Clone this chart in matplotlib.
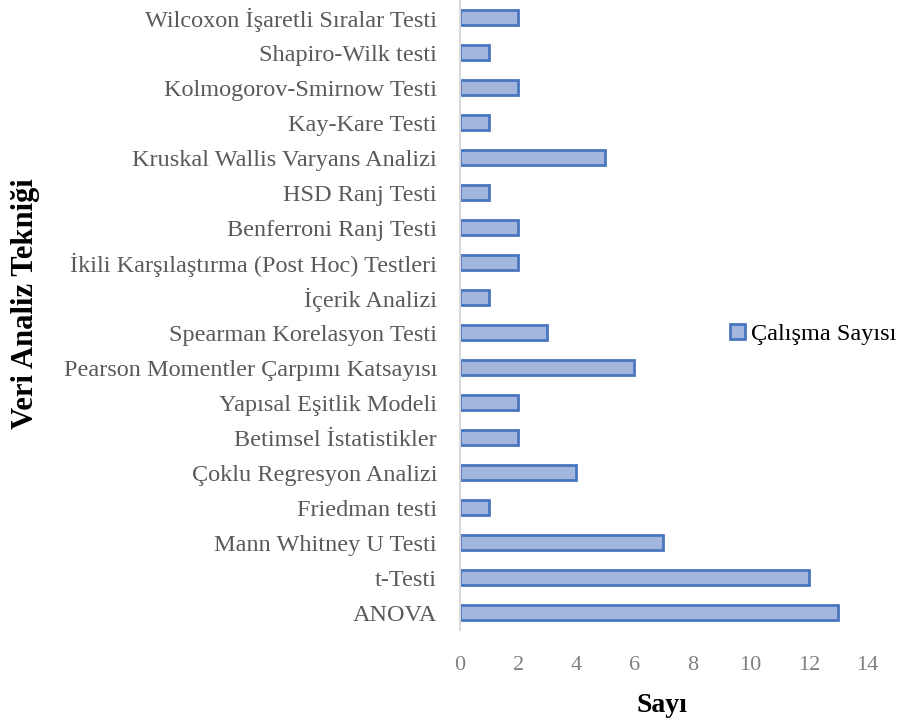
import numpy as np
import matplotlib.pyplot as plt

plt.rcParams['font.family'] = ['Liberation Serif', 'DejaVu Serif']

techniques = ["Wilcoxon İşaretli Sıralar Testi", "Shapiro-Wilk testi", "Kolmogorov-Smirnow Testi",
              "Kay-Kare Testi", "Kruskal Wallis Varyans Analizi", "HSD Ranj Testi",
              "Benferroni Ranj Testi", "İkili Karşılaştırma (Post Hoc) Testleri", "İçerik Analizi",
              "Spearman Korelasyon Testi", "Pearson Momentler Çarpımı Katsayısı", "Yapısal Eşitlik Modeli",
              "Betimsel İstatistikler", "Çoklu Regresyon Analizi", "Friedman testi",
              "Mann Whitney U Testi", "t-Testi", "ANOVA"]
counts = [2, 1, 2, 1, 5, 1, 2, 2, 1, 3, 6, 2, 2, 4, 1, 7, 12, 13]
xticks = [0, 2, 4, 6, 8, 10, 12, 14]

fig = plt.figure(figsize=(9.06, 7.22), dpi=100)
ax = fig.add_axes([0.5077, 0.1274, 0.4492, 0.8720])

y = np.arange(len(techniques))[::-1]
ax.barh(y, counts, height=0.43, color='#a3b7de', edgecolor='#4a76c0', linewidth=2,
        label='Çalışma Sayısı')

ax.set_xlim(0, 14)
ax.set_ylim(-0.5, len(techniques) - 0.5)
ax.set_xticks(xticks)
ax.set_xticklabels([str(v) for v in xticks], fontsize=16, color='#808080')
ax.set_yticks(y)
ax.set_yticklabels(techniques, fontsize=17.5, color='#5a5a5a')
ax.tick_params(length=0)
ax.tick_params(axis='x', pad=19)
ax.tick_params(axis='y', pad=16.5)

for s in ['top', 'right', 'bottom']:
    ax.spines[s].set_visible(False)
ax.spines['left'].set_color('#d9d9d9')
ax.spines['left'].set_linewidth(1.5)

fig.text(0.731, 0.006, 'Sayı', fontsize=20, fontweight='bold', ha='center', va='bottom')
fig.text(0.028, 0.580, 'Veri Analiz Tekniği', fontsize=22, fontweight='bold', rotation=90,
         ha='center', va='center')

fig.legend(loc='center left', bbox_to_anchor=(0.806, 0.537), frameon=False, fontsize=17.5,
           handlelength=0.6, handleheight=0.6, handletextpad=0.25, borderaxespad=0, borderpad=0)

fig.savefig('out.png', dpi=100)
